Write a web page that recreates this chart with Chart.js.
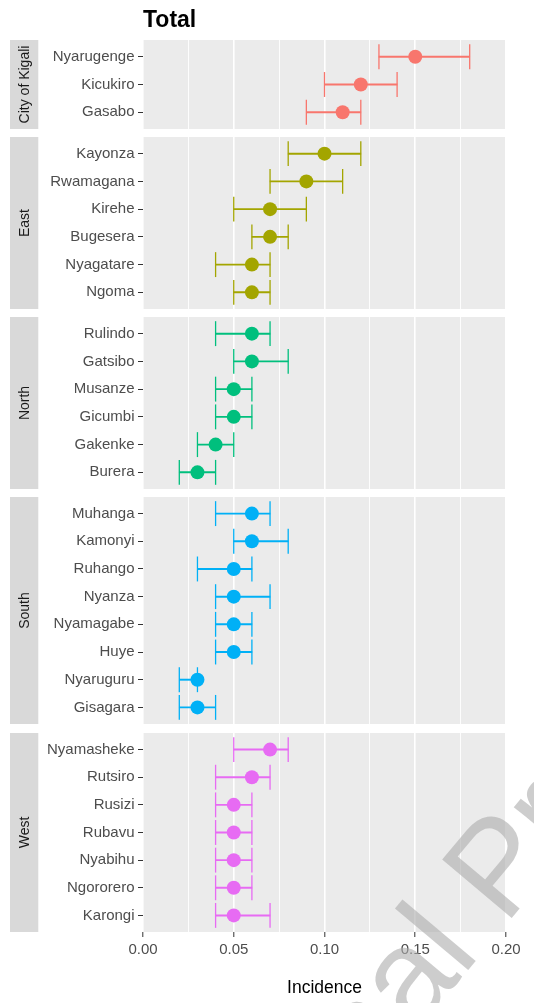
<!DOCTYPE html>
<html>
<head>
<meta charset="utf-8">
<title>Total – Incidence by district</title>
<script src="https://cdn.jsdelivr.net/npm/chart.js@4.4.1/dist/chart.umd.min.js"></script>
<style>
  html, body { margin: 0; padding: 0; background: #ffffff; }
  #wrap { position: relative; width: 534px; height: 1003px; overflow: hidden; }
  .facet { position: absolute; left: 0; width: 534px; }
</style>
</head>
<body>
<div id="wrap"></div>
<script>
// ---- data -------------------------------------------------------------
const regionNames  = ['City of Kigali', 'East', 'North', 'South', 'West'];
const regionColors = ['#F8766D', '#A3A500', '#00BF7D', '#00B0F6', '#E76BF3'];

const kigaliDistricts = ['Nyarugenge', 'Kicukiro', 'Gasabo'];
const kigaliIncidence = [0.15, 0.12, 0.11];
const kigaliLower     = [0.13, 0.10, 0.09];
const kigaliUpper     = [0.18, 0.14, 0.12];

const eastDistricts = ['Kayonza', 'Rwamagana', 'Kirehe', 'Bugesera', 'Nyagatare', 'Ngoma'];
const eastIncidence = [0.10, 0.09, 0.07, 0.07, 0.06, 0.06];
const eastLower     = [0.08, 0.07, 0.05, 0.06, 0.04, 0.05];
const eastUpper     = [0.12, 0.11, 0.09, 0.08, 0.07, 0.07];

const northDistricts = ['Rulindo', 'Gatsibo', 'Musanze', 'Gicumbi', 'Gakenke', 'Burera'];
const northIncidence = [0.06, 0.06, 0.05, 0.05, 0.04, 0.03];
const northLower     = [0.04, 0.05, 0.04, 0.04, 0.03, 0.02];
const northUpper     = [0.07, 0.08, 0.06, 0.06, 0.05, 0.04];

const southDistricts = ['Muhanga', 'Kamonyi', 'Ruhango', 'Nyanza', 'Nyamagabe', 'Huye', 'Nyaruguru', 'Gisagara'];
const southIncidence = [0.06, 0.06, 0.05, 0.05, 0.05, 0.05, 0.03, 0.03];
const southLower     = [0.04, 0.05, 0.03, 0.04, 0.04, 0.04, 0.02, 0.02];
const southUpper     = [0.07, 0.08, 0.06, 0.07, 0.06, 0.06, 0.03, 0.04];

const westDistricts = ['Nyamasheke', 'Rutsiro', 'Rusizi', 'Rubavu', 'Nyabihu', 'Ngororero', 'Karongi'];
const westIncidence = [0.07, 0.06, 0.05, 0.05, 0.05, 0.05, 0.05];
const westLower     = [0.05, 0.04, 0.04, 0.04, 0.04, 0.04, 0.04];
const westUpper     = [0.08, 0.07, 0.06, 0.06, 0.06, 0.06, 0.07];

const xMajorTicks  = [0, 0.05, 0.10, 0.15, 0.20];
const xTickLabels  = ['0.00', '0.05', '0.10', '0.15', '0.20'];
const xMinorTicks  = [0.025, 0.075, 0.125, 0.175];
const xAxisTitle   = 'Incidence';
const plotTitle    = 'Total';

const facets = [
  { districts: kigaliDistricts, est: kigaliIncidence, lo: kigaliLower, hi: kigaliUpper },
  { districts: eastDistricts,   est: eastIncidence,   lo: eastLower,   hi: eastUpper },
  { districts: northDistricts,  est: northIncidence,  lo: northLower,  hi: northUpper },
  { districts: southDistricts,  est: southIncidence,  lo: southLower,  hi: southUpper },
  { districts: westDistricts,   est: westIncidence,   lo: westLower,   hi: westUpper }
];

// ---- layout -----------------------------------------------------------
const FONT = '"Liberation Sans", Arial, Helvetica, sans-serif';
Chart.defaults.font.family = FONT;

const PANEL_TOP = 40, PANEL_BOTTOM = 932, PANEL_GAP = 8.5;
const PANEL_LEFT = 143, PANEL_RIGHT = 506, PAGE_W = 534, PAGE_H = 1003;
const EDGE = 24;    // transparent room above/below each panel canvas
const EXPAND = 0.6; // discrete-axis padding, in rows
const totalRows = facets.reduce((s, f) => s + f.districts.length - 1 + 2 * EXPAND, 0);
const ROW = (PANEL_BOTTOM - PANEL_TOP - PANEL_GAP * (facets.length - 1)) / totalRows;

const isMajor = v => xMajorTicks.some(m => Math.abs(m - v) < 1e-9);
const xGridValues = xMajorTicks.concat(xMinorTicks).sort((a, b) => a - b);

// grey panel background + left strip with the region name
const facetFrame = {
  id: 'facetFrame',
  beforeDraw(chart, args, opts) {
    const { ctx, chartArea: a } = chart;
    ctx.save();
    ctx.fillStyle = '#EBEBEB';
    ctx.fillRect(a.left, a.top, a.right - a.left, a.bottom - a.top);
    ctx.fillStyle = '#D9D9D9';
    ctx.fillRect(10, a.top, 28.3, a.bottom - a.top);
    ctx.translate(25, (a.top + a.bottom) / 2);
    ctx.rotate(-Math.PI / 2);
    ctx.fillStyle = '#1A1A1A';
    ctx.font = '14px ' + FONT;
    ctx.textAlign = 'center';
    ctx.textBaseline = 'middle';
    ctx.fillText(opts.label, 0, 0);
    ctx.restore();
  }
};

// plot title above the first panel
const plotHeading = {
  id: 'plotHeading',
  afterDraw(chart, args, opts) {
    if (!opts.text) return;
    const { ctx, chartArea: a } = chart;
    ctx.save();
    ctx.fillStyle = '#000000';
    ctx.font = 'bold 23px ' + FONT;
    ctx.textAlign = 'left';
    ctx.textBaseline = 'alphabetic';
    ctx.fillText(opts.text, a.left, 27);
    ctx.restore();
  }
};

// diagonal stamp across the lower right corner
const stamp = {
  id: 'stamp',
  afterDraw(chart, args, opts) {
    if (!opts.text) return;
    const ctx = chart.ctx;
    ctx.save();
    ctx.translate(opts.x, opts.y);
    ctx.rotate(opts.angle * Math.PI / 180);
    ctx.fillStyle = 'rgba(172,172,172,0.6)';
    ctx.font = opts.size + 'px ' + FONT;
    ctx.textAlign = 'left';
    ctx.textBaseline = 'alphabetic';
    ctx.fillText(opts.text, 0, 0);
    ctx.restore();
  }
};

const wrap = document.getElementById('wrap');
let cursor = PANEL_TOP;

facets.forEach((f, k) => {
  const n = f.districts.length;
  const isFirst = k === 0, isLast = k === facets.length - 1;
  const color = regionColors[k];
  const top = Math.round(cursor);
  const bottom = Math.round(cursor + ROW * (n - 1 + 2 * EXPAND));
  cursor += ROW * (n - 1 + 2 * EXPAND) + PANEL_GAP;

  const padTop = isFirst ? top : EDGE;
  const padBottom = isLast ? 0 : EDGE;
  const axisBand = isLast ? PAGE_H - bottom : 0;
  const divTop = top - padTop;
  const divH = (bottom - top) + padTop + padBottom + axisBand;

  const box = document.createElement('div');
  box.className = 'facet';
  box.style.top = divTop + 'px';
  box.style.height = divH + 'px';
  const cv = document.createElement('canvas');
  box.appendChild(cv);
  wrap.appendChild(box);

  const capHalf = 0.45 * ROW;

  new Chart(cv, {
    type: 'scatter',
    data: {
      datasets: [
        {
          type: 'scatter',
          data: f.districts.map((d, i) => ({ x: f.est[i], y: i })),
          pointRadius: 7, pointHoverRadius: 7,
          backgroundColor: color, borderWidth: 0,
          order: 0
        },
        {
          type: 'bar',
          indexAxis: 'y',
          data: f.districts.map((d, i) => ({ x: [f.lo[i], f.hi[i]], y: i })),
          backgroundColor: color,
          barThickness: 1.3,
          borderWidth: 0,
          order: 1
        },
        {
          type: 'scatter',
          data: f.districts.flatMap((d, i) => [{ x: f.lo[i], y: i }, { x: f.hi[i], y: i }]),
          pointStyle: 'line', rotation: 90,
          pointRadius: capHalf, pointHoverRadius: capHalf,
          borderColor: color, borderWidth: 1.3,
          order: 2
        }
      ]
    },
    options: {
      responsive: true,
      maintainAspectRatio: false,
      animation: false,
      devicePixelRatio: 1,
      events: [],
      layout: { padding: { top: padTop, right: PAGE_W - PANEL_RIGHT, bottom: padBottom, left: 0 } },
      plugins: {
        legend: { display: false },
        tooltip: { enabled: false },
        facetFrame: { label: regionNames[k] },
        plotHeading: { text: isFirst ? plotTitle : '' },
        stamp: isLast
          ? { text: 'Journal Pre-proof', x: 203, y: 1286 - divTop, angle: -50, size: 132 }
          : { text: '' }
      },
      scales: {
        x: {
          type: 'linear',
          position: 'bottom',
          offset: false,
          min: xMajorTicks[0],
          max: xMajorTicks[xMajorTicks.length - 1],
          bounds: 'data',
          afterBuildTicks: s => { s.ticks = xGridValues.map(v => ({ value: v })); },
          afterFit: s => { s.height = axisBand; },
          border: { display: false },
          grid: {
            offset: false,
            color: '#FFFFFF',
            lineWidth: c => (c.tick && isMajor(c.tick.value)) ? 1.6 : 0.9,
            drawTicks: isLast,
            tickLength: 5,
            tickWidth: 1,
            tickColor: c => (c.tick && isMajor(c.tick.value)) ? '#333333' : 'rgba(0,0,0,0)'
          },
          ticks: {
            display: isLast,
            autoSkip: false,
            maxRotation: 0,
            padding: 4,
            color: '#4D4D4D',
            font: { size: 15 },
            callback: v => {
              const j = xMajorTicks.findIndex(m => Math.abs(m - v) < 1e-9);
              return j >= 0 ? xTickLabels[j] : '';
            }
          },
          title: {
            display: isLast,
            text: xAxisTitle,
            color: '#000000',
            font: { size: 17.5 },
            padding: { top: 0, bottom: 4.5 }
          }
        },
        y: {
          type: 'linear',
          position: 'left',
          offset: false,
          reverse: true,
          min: -EXPAND,
          max: n - 1 + EXPAND,
          bounds: 'data',
          afterBuildTicks: s => { s.ticks = f.districts.map((d, i) => ({ value: i })); },
          afterFit: s => { s.width = PANEL_LEFT; },
          border: { display: false },
          grid: {
            offset: false,
            drawOnChartArea: false,
            drawTicks: true,
            tickLength: 5,
            tickWidth: 1,
            tickColor: '#333333'
          },
          ticks: {
            autoSkip: false,
            padding: 3.5,
            color: '#4D4D4D',
            font: { size: 15 },
            callback: v => f.districts[v]
          }
        }
      }
    },
    plugins: [facetFrame, plotHeading, stamp]
  });
});
</script>
</body>
</html>
